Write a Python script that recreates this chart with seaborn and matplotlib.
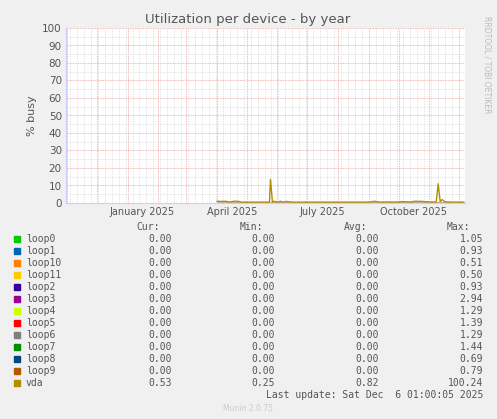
import matplotlib
matplotlib.use("Agg")
import matplotlib.pyplot as plt
import matplotlib.dates as mdates
import seaborn as sns
import pandas as pd
import numpy as np

sns.set_style("white")
plt.rcParams['font.family'] = ['DejaVu Sans']

names = ["loop0","loop1","loop10","loop11","loop2","loop3","loop4","loop5","loop6","loop7","loop8","loop9","vda"]
colors = ["#00CC00","#0066B3","#FF8000","#FFCC00","#330099","#990099","#CCFF00","#FF0000","#808080","#008F00","#00487D","#B35A00","#B38F00"]
cur = ["0.00"]*12 + ["0.53"]
mins = ["0.00"]*12 + ["0.25"]
avgs = ["0.00"]*12 + ["0.82"]
maxs = ["1.05","0.93","0.51","0.50","0.93","2.94","1.29","1.39","1.29","1.44","0.69","0.79","100.24"]

vda_dates = ["2025-04-01","2025-04-05","2025-04-10","2025-04-14","2025-04-18","2025-04-22","2025-04-26","2025-05-01",
             "2025-05-08","2025-05-15","2025-05-22","2025-05-24","2025-05-25","2025-05-27","2025-05-29","2025-06-01",
             "2025-06-04","2025-06-07","2025-06-10","2025-06-15","2025-06-22","2025-07-01","2025-07-10","2025-07-20",
             "2025-08-01","2025-08-10","2025-08-20","2025-09-01","2025-09-07","2025-09-12","2025-09-20","2025-09-28",
             "2025-10-05","2025-10-12","2025-10-18","2025-10-25","2025-11-01","2025-11-06","2025-11-08","2025-11-10",
             "2025-11-12","2025-11-14","2025-11-16","2025-11-19","2025-11-25","2025-12-01","2025-12-06"]
vda_vals = [1.0,0.9,1.0,0.5,1.0,1.0,0.5,0.5,
            0.5,0.5,0.5,0.6,13.5,0.6,1.0,0.5,
            1.0,0.5,0.9,0.5,0.5,0.5,0.5,0.5,
            0.5,0.5,0.5,0.5,1.0,0.5,0.6,0.5,
            0.8,0.6,1.0,0.9,0.6,0.6,0.6,11.0,
            0.8,2.0,0.9,0.6,0.5,0.5,0.53]

fig = plt.figure(figsize=(4.97, 4.19), dpi=100, facecolor="#F0F0F0")
ax = fig.add_axes([66/497, (419-203)/419, 399/497, 175/419])
ax.set_facecolor("white")

df = pd.DataFrame({"date": pd.to_datetime(vda_dates), "val": vda_vals})
for n, c in zip(names[:-1], colors[:-1]):
    sns.lineplot(x=df["date"], y=np.zeros(len(df)), color=c, lw=0.8, ax=ax)
sns.lineplot(data=df, x="date", y="val", color=colors[-1], lw=1.0, ax=ax)

ax.set_xlim(pd.Timestamp("2024-10-31"), pd.Timestamp("2025-12-07"))
ax.set_ylim(0, 100)
ax.set_yticks(range(0, 101, 10))
ax.set_yticks(range(0, 101, 5), minor=True)
ax.xaxis.set_major_locator(mdates.MonthLocator())
ax.xaxis.set_minor_locator(mdates.WeekdayLocator(byweekday=0))
ax.grid(which="minor", color="#DDDDDD", ls=(0, (1, 1)), lw=0.6)
ax.grid(which="major", color="#F0A0A0", ls=(0, (1, 1)), lw=0.6)
ax.set_xticklabels([])
for lab, d in [("January 2025","2025-01-16"),("April 2025","2025-04-16"),("July 2025","2025-07-16"),("October 2025","2025-10-16")]:
    ax.text(mdates.date2num(pd.Timestamp(d)), -2.5, lab, ha="center", va="top", fontsize=7, color="#555555")
ax.tick_params(axis="y", labelsize=7.5, colors="#555555", length=0, pad=3)
ax.tick_params(axis="x", length=0)
for s in ["top", "right"]:
    ax.spines[s].set_visible(False)
ax.spines["left"].set_color("#CCCCFF")
ax.spines["bottom"].set_color("#CCCCFF")
ax.set_xlabel("")
ax.set_ylabel("% busy", fontsize=8, color="#555555")

fig.text(248/497, 1-20/419, "Utilization per device - by year", ha="center", va="center", fontsize=9.5, color="#555555")
fig.text(487/497, 1-65/419, "RRDTOOL / TOBI OETIKER", rotation=270, ha="center", va="center", fontsize=5.5, color="#BBBBBB")

mono = "DejaVu Sans Mono"
def fy(y): return 1 - y/419
fs = 7
for x, h in [(160, "Cur:"), (263, "Min:"), (367, "Avg:"), (470, "Max:")]:
    fig.text(x/497, fy(227), h, ha="right", va="center", family=mono, fontsize=fs, color="#555555")
for i, n in enumerate(names):
    y = 239 + i*12
    fig.patches.append(plt.Rectangle((14/497, fy(y+3)), 6/497, 6/419, transform=fig.transFigure, color=colors[i]))
    fig.text(26/497, fy(y), n, ha="left", va="center", family=mono, fontsize=fs, color="#555555")
    for x, v in [(172, cur[i]), (275, mins[i]), (379, avgs[i]), (483, maxs[i])]:
        fig.text(x/497, fy(y), v, ha="right", va="center", family=mono, fontsize=fs, color="#555555")
fig.text(483/497, fy(395), "Last update: Sat Dec  6 01:00:05 2025", ha="right", va="center", family=mono, fontsize=fs, color="#555555")
fig.text(248/497, fy(408), "Munin 2.0.75", ha="center", va="center", fontsize=5.5, color="#CCCCCC")

fig.savefig("out.png", dpi=100, facecolor=fig.get_facecolor())
